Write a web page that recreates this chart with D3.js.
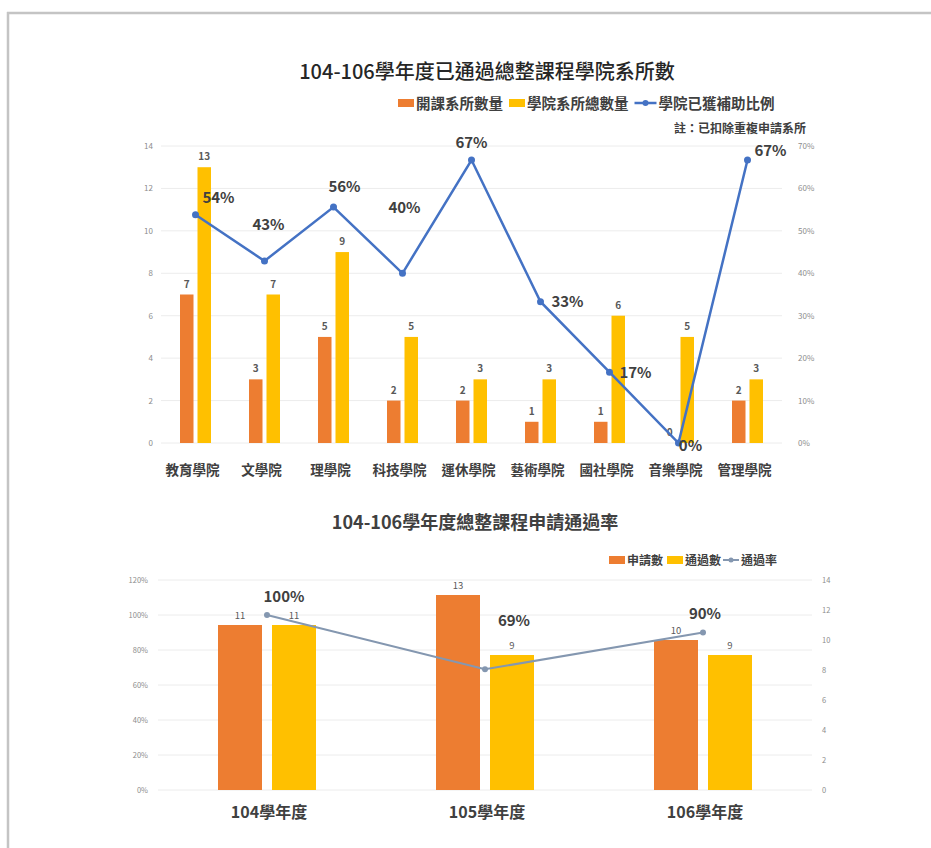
<!DOCTYPE html>
<html><head><meta charset="utf-8">
<script src="https://cdn.jsdelivr.net/npm/d3@7"></script>
<style>
body{margin:0;background:#fff;}
text{font-family:"Noto Sans CJK TC","Noto Sans",sans-serif;}
</style></head>
<body><svg id="c" width="931" height="848"></svg>
<script>
// ---------- DATA: top chart ----------
const colleges = ["教育學院","文學院","理學院","科技學院","運休學院","藝術學院","國社學院","音樂學院","管理學院"];
const openedDepts = [7,3,5,2,2,1,1,0,2];
const totalDepts = [13,7,9,5,3,3,6,5,3];
const subsidyRate = [53.8,42.9,55.6,40.0,66.7,33.3,16.7,0,66.7];
const subsidyLabels = ["54%","43%","56%","40%","67%","33%","17%","0%","67%"];
const countTicks = [0,2,4,6,8,10,12,14];
const pctTicksTop = [0,10,20,30,40,50,60,70];

// ---------- DATA: bottom chart ----------
const years = ["104學年度","105學年度","106學年度"];
const applied = [11,13,10];
const passed = [11,9,9];
const passRate = [100,69,90];
const passLabels = ["100%","69%","90%"];
const pctTicksBottom = [0,20,40,60,80,100,120];
const countTicksBottom = [0,2,4,6,8,10,12,14];

// ---------- styles ----------
const ORANGE="#ED7D31", YELLOW="#FFC000", BLUE="#4472C4", GRAY_LINE="#8497B0";
const topLabelOffsets=[[23,-17],[4,-36],[11,-20],[2,-65],[0,-17],[27,0],[26,1],[12,3],[23,-9]];
const botLabelOffsets=[[17,-18],[29,-48],[2,-19]];

const svg=d3.select("#c");
// frame
svg.append("line").attr("x1",7).attr("x2",931).attr("y1",13).attr("y2",13).attr("stroke","#c4c4c4").attr("stroke-width",2.5);
svg.append("line").attr("x1",8).attr("x2",8).attr("y1",12).attr("y2",848).attr("stroke","#c4c4c4").attr("stroke-width",2.5);

// ===== TOP CHART =====
const T={left:161,right:782,top:146,bottom:443};
const xT=d3.scaleBand().domain(colleges).range([T.left,T.right]);
const yT=d3.scaleLinear().domain([0,14]).range([T.bottom,T.top]);
const yTp=d3.scaleLinear().domain([0,70]).range([T.bottom,T.top]);

svg.append("text").attr("x",487).attr("y",79).attr("text-anchor","middle")
  .attr("font-size",20).attr("font-weight",500).attr("fill","#262626")
  .text("104-106學年度已通過總整課程學院系所數");

// gridlines
svg.append("g").selectAll("line").data(countTicks).join("line")
  .attr("x1",T.left).attr("x2",T.right).attr("y1",d=>yT(d)).attr("y2",d=>yT(d))
  .attr("stroke","#ececec").attr("stroke-width",1);

function styleAxis(g,fs){
  g.select(".domain").remove();
  g.selectAll("text").attr("font-size",fs).attr("fill","#8c8c8c").style("fill","#8c8c8c");
}
styleAxis(svg.append("g").attr("transform",`translate(${T.left-8},0)`)
  .call(d3.axisLeft(yT).tickValues(countTicks).tickSize(0).tickPadding(0)),8);
styleAxis(svg.append("g").attr("transform",`translate(${T.right+16},0)`)
  .call(d3.axisRight(yTp).tickValues(pctTicksTop).tickFormat(d=>d+"%").tickSize(0).tickPadding(0)),8);

const bw=13.5, gap=4;
const cx=c=>xT(c)+xT.bandwidth()/2;
svg.append("g").selectAll("rect").data(colleges).join("rect")
  .attr("x",c=>cx(c)-gap/2-bw).attr("width",bw)
  .attr("y",(c,i)=>yT(openedDepts[i])).attr("height",(c,i)=>T.bottom-yT(openedDepts[i]))
  .attr("fill",ORANGE);
svg.append("g").selectAll("rect").data(colleges).join("rect")
  .attr("x",c=>cx(c)+gap/2).attr("width",bw)
  .attr("y",(c,i)=>yT(totalDepts[i])).attr("height",(c,i)=>T.bottom-yT(totalDepts[i]))
  .attr("fill",YELLOW);
svg.append("g").selectAll("text").data(colleges).join("text")
  .attr("x",c=>cx(c)-gap/2-bw/2).attr("y",(c,i)=>yT(openedDepts[i])-7)
  .attr("text-anchor","middle").attr("font-size",10).attr("font-weight",600).attr("fill","#595959")
  .text((c,i)=>openedDepts[i]);
svg.append("g").selectAll("text").data(colleges).join("text")
  .attr("x",c=>cx(c)+gap/2+bw/2).attr("y",(c,i)=>yT(totalDepts[i])-7)
  .attr("text-anchor","middle").attr("font-size",10).attr("font-weight",600).attr("fill","#595959")
  .text((c,i)=>totalDepts[i]);

const lineT=d3.line().x((d,i)=>cx(colleges[i])).y(d=>yTp(d));
svg.append("path").datum(subsidyRate).attr("d",lineT).attr("fill","none")
  .attr("stroke",BLUE).attr("stroke-width",2.5);
svg.append("g").selectAll("circle").data(subsidyRate).join("circle")
  .attr("cx",(d,i)=>cx(colleges[i])).attr("cy",d=>yTp(d)).attr("r",3.5).attr("fill",BLUE);
svg.append("g").selectAll("text").data(subsidyRate).join("text")
  .attr("x",(d,i)=>cx(colleges[i])+topLabelOffsets[i][0])
  .attr("y",(d,i)=>yTp(d)+topLabelOffsets[i][1]+5)
  .attr("text-anchor","middle").attr("font-size",15).attr("font-weight",700).attr("fill","#404040")
  .text((d,i)=>subsidyLabels[i]);

svg.append("g").selectAll("text").data(colleges).join("text")
  .attr("x",c=>cx(c)-3).attr("y",475).attr("text-anchor","middle")
  .attr("font-size",13.5).attr("font-weight",700).attr("fill","#404040").text(c=>c);

// legend top (laid out sequentially)
const legT=svg.append("g").attr("font-size",14.5).attr("font-weight",700).attr("fill","#404040");
const ly=104;
let lx=398;
legT.append("rect").attr("x",lx).attr("y",ly-5).attr("width",16).attr("height",8).attr("fill",ORANGE);
let t=legT.append("text").attr("x",lx+18).attr("y",ly+5).text("開課系所數量");
lx=lx+18+t.node().getComputedTextLength()+6;
legT.append("rect").attr("x",lx).attr("y",ly-5).attr("width",16).attr("height",8).attr("fill",YELLOW);
t=legT.append("text").attr("x",lx+18).attr("y",ly+5).text("學院系所總數量");
lx=lx+18+t.node().getComputedTextLength()+6;
legT.append("line").attr("x1",lx).attr("x2",lx+22).attr("y1",ly-1).attr("y2",ly-1).attr("stroke",BLUE).attr("stroke-width",2.5);
legT.append("circle").attr("cx",lx+11).attr("cy",ly-1).attr("r",3).attr("fill",BLUE);
legT.append("text").attr("x",lx+24).attr("y",ly+5).text("學院已獲補助比例");
svg.append("text").attr("x",806).attr("y",133).attr("text-anchor","end")
  .attr("font-size",12).attr("font-weight",700).attr("fill","#404040").text("註：已扣除重複申請系所");

// ===== BOTTOM CHART =====
const B={left:158,right:812,top:580,bottom:790};
const xB=d3.scaleBand().domain(years).range([B.left,B.right]);
const yBp=d3.scaleLinear().domain([0,120]).range([B.bottom,B.top]);
const yBc=d3.scaleLinear().domain([0,14]).range([B.bottom,B.top]);

svg.append("text").attr("x",475).attr("y",529).attr("text-anchor","middle")
  .attr("font-size",18).attr("font-weight",700).attr("fill","#404040")
  .text("104-106學年度總整課程申請通過率");

svg.append("g").selectAll("line").data(pctTicksBottom).join("line")
  .attr("x1",B.left).attr("x2",B.right).attr("y1",d=>yBp(d)).attr("y2",d=>yBp(d))
  .attr("stroke","#ececec").attr("stroke-width",1);

styleAxis(svg.append("g").attr("transform",`translate(${B.left-10},0)`)
  .call(d3.axisLeft(yBp).tickValues(pctTicksBottom).tickFormat(d=>d+"%").tickSize(0).tickPadding(0)),7.5);
styleAxis(svg.append("g").attr("transform",`translate(${B.right+10},0)`)
  .call(d3.axisRight(yBc).tickValues(countTicksBottom).tickSize(0).tickPadding(0)),7.5);

const bw2=44, gap2=10;
const cxB=y=>xB(y)+xB.bandwidth()/2;
svg.append("g").selectAll("rect").data(years).join("rect")
  .attr("x",y=>cxB(y)-gap2/2-bw2).attr("width",bw2)
  .attr("y",(y,i)=>yBc(applied[i])).attr("height",(y,i)=>B.bottom-yBc(applied[i])).attr("fill",ORANGE);
svg.append("g").selectAll("rect").data(years).join("rect")
  .attr("x",y=>cxB(y)+gap2/2).attr("width",bw2)
  .attr("y",(y,i)=>yBc(passed[i])).attr("height",(y,i)=>B.bottom-yBc(passed[i])).attr("fill",YELLOW);
svg.append("g").selectAll("text").data(years).join("text")
  .attr("x",y=>cxB(y)-gap2/2-bw2/2).attr("y",(y,i)=>yBc(applied[i])-6)
  .attr("text-anchor","middle").attr("font-size",9.5).attr("fill","#595959").text((y,i)=>applied[i]);
svg.append("g").selectAll("text").data(years).join("text")
  .attr("x",y=>cxB(y)+gap2/2+bw2/2).attr("y",(y,i)=>yBc(passed[i])-6)
  .attr("text-anchor","middle").attr("font-size",9.5).attr("fill","#595959").text((y,i)=>passed[i]);

const lineB=d3.line().x((d,i)=>cxB(years[i])).y(d=>yBp(d));
svg.append("path").datum(passRate).attr("d",lineB).attr("fill","none")
  .attr("stroke",GRAY_LINE).attr("stroke-width",2);
svg.append("g").selectAll("circle").data(passRate).join("circle")
  .attr("cx",(d,i)=>cxB(years[i])).attr("cy",d=>yBp(d)).attr("r",3).attr("fill",GRAY_LINE);
svg.append("g").selectAll("text").data(passRate).join("text")
  .attr("x",(d,i)=>cxB(years[i])+botLabelOffsets[i][0])
  .attr("y",(d,i)=>yBp(d)+botLabelOffsets[i][1]+5)
  .attr("text-anchor","middle").attr("font-size",15).attr("font-weight",700).attr("fill","#404040")
  .text((d,i)=>passLabels[i]);

svg.append("g").selectAll("text").data(years).join("text")
  .attr("x",y=>cxB(y)+2).attr("y",818).attr("text-anchor","middle")
  .attr("font-size",16).attr("font-weight",600).attr("fill","#404040").text(y=>y);

// legend bottom
const legB=svg.append("g").attr("font-size",12).attr("font-weight",700).attr("fill","#404040");
const by=561;
legB.append("rect").attr("x",609).attr("y",by-5).attr("width",16).attr("height",8).attr("fill",ORANGE);
legB.append("text").attr("x",627).attr("y",by+4).text("申請數");
legB.append("rect").attr("x",667).attr("y",by-5).attr("width",16).attr("height",8).attr("fill",YELLOW);
legB.append("text").attr("x",685).attr("y",by+4).text("通過數");
legB.append("line").attr("x1",723).attr("x2",739).attr("y1",by-1).attr("y2",by-1).attr("stroke",GRAY_LINE).attr("stroke-width",2);
legB.append("circle").attr("cx",731).attr("cy",by-1).attr("r",2.5).attr("fill",GRAY_LINE);
legB.append("text").attr("x",741).attr("y",by+4).text("通過率");
</script></body></html>
